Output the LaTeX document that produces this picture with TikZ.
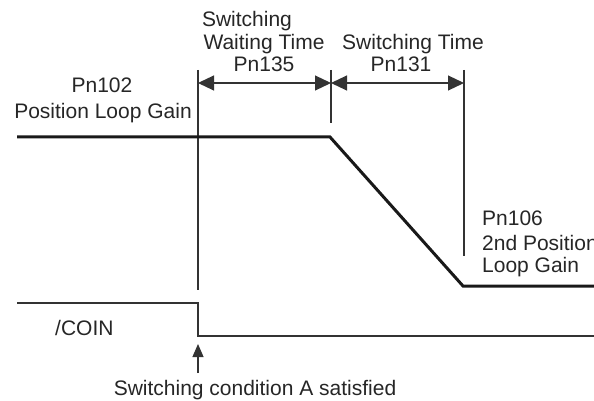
\documentclass[tikz,border=0pt]{standalone}
\usepackage{fontspec}
\setmainfont{Liberation Sans}
\usetikzlibrary{arrows.meta}
\begin{document}
\begin{tikzpicture}[x=1pt,y=-1pt,
  lbl/.style={inner sep=0pt,font=\fontsize{21}{24}\selectfont,text=black!85},
  thin/.style={line width=1.1pt,black!80},
  gain/.style={line width=3pt,black!90,line join=miter},
  dim/.style={thin,{Triangle[length=16pt,width=15pt]}-{Triangle[length=16pt,width=15pt]}},
  up/.style={thin,-{Triangle[length=13pt,width=11pt]}}]
\useasboundingbox (0,0) rectangle (594,401);
\clip (0,0) rectangle (594,401);
% coordinates
\coordinate (t0top) at (198,70);
\coordinate (t0bot) at (198,290);
\coordinate (t1top) at (331,70);
\coordinate (t1bot) at (331,123);
\coordinate (t2top) at (464,70);
\coordinate (t2bot) at (464,256);
\coordinate (a0) at (198,83);
\coordinate (a1) at (331,83);
\coordinate (a2) at (464,83);
\coordinate (g0) at (17,137);
\coordinate (g1) at (330,137);
\coordinate (g2) at (463,286);
\coordinate (g3) at (600,286);
\coordinate (c0) at (17,303);
\coordinate (c1) at (198,303);
\coordinate (c2) at (198,336);
\coordinate (c3) at (600,336);
\coordinate (u0) at (198,373);
\coordinate (u1) at (198,344);
% verticals
\draw[thin] (t0top) -- (t0bot);
\draw[thin] (t1top) -- (t1bot);
\draw[thin] (t2top) -- (t2bot);
% dimension arrows
\draw[dim] (a0) -- (a1);
\draw[dim] (a1) -- (a2);
% gain curve
\draw[gain] (g0) -- (g1) -- (g2) -- (g3);
% COIN signal
\draw[thin] (c0) -- (c1) -- (c2) -- (c3);
\draw[up] (u0) -- (u1);
% labels
\node[lbl,anchor=base] (sw1) at (247,27) {Switching};
\node[lbl,anchor=base] (sw2) at (264,50) {Waiting Time};
\node[lbl,anchor=base] (sw3) at (264,72) {Pn135};
\node[lbl,anchor=base] (st1) at (413,50) {Switching Time};
\node[lbl,anchor=base] (st2) at (401,72) {Pn131};
\node[lbl,anchor=base] (p1) at (102,93) {Pn102};
\node[lbl,anchor=base] (p2) at (103,118) {Position Loop Gain};
\node[lbl,anchor=base west] (q1) at (482,225) {Pn106};
\node[lbl,anchor=base west] (q2) at (482,250) {2nd Position};
\node[lbl,anchor=base west] (q3) at (482,272) {Loop Gain};
\node[lbl,anchor=base west] (coin) at (55,335) {/COIN};
\node[lbl,anchor=base] (cond) at (255,395) {Switching condition A satisfied};
\end{tikzpicture}
\end{document}
